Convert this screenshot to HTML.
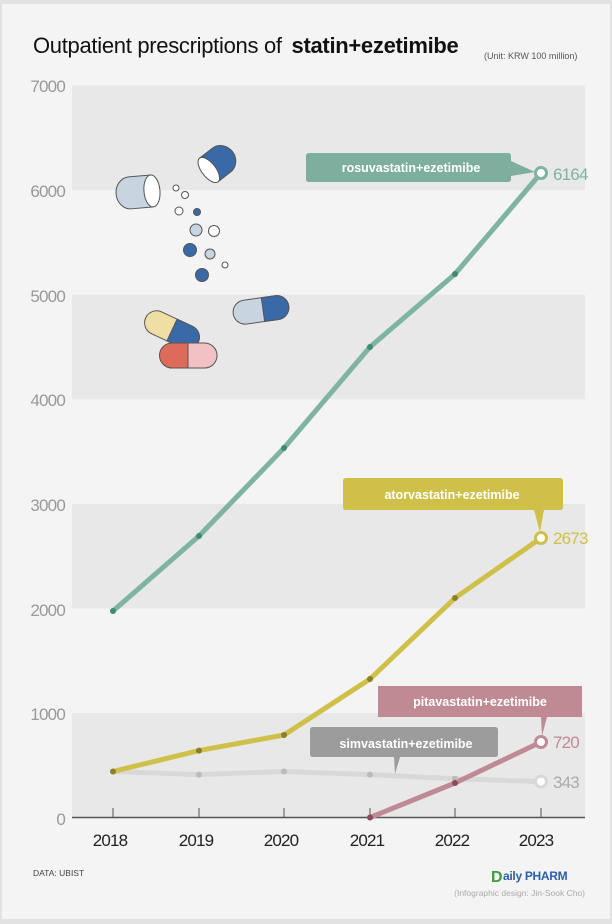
<!DOCTYPE html>
<html><head><meta charset="utf-8"><style>
html,body{margin:0;padding:0;background:#fff}
svg{display:block}
text{font-family:"Liberation Sans",sans-serif}
</style></head><body>
<svg width="612" height="924" viewBox="0 0 612 924" xmlns="http://www.w3.org/2000/svg">
<rect width="612" height="924" fill="#e2e2e2"/>
<rect x="2" y="4" width="608" height="915" fill="#f4f4f4"/>
<text x="33" y="53" font-size="22" fill="#111" letter-spacing="-0.3">Outpatient prescriptions of <tspan font-weight="bold" dx="4">statin+ezetimibe</tspan></text>
<text x="484" y="59" font-size="9" fill="#555">(Unit: KRW 100 million)</text>
<!-- bands -->
<g fill="#e8e8e8">
<rect x="72" y="85.5" width="513" height="104.6"/>
<rect x="72" y="294.7" width="513" height="104.6"/>
<rect x="72" y="503.8" width="513" height="104.6"/>
<rect x="72" y="713" width="513" height="104.6"/>
</g>
<g font-size="17" fill="#999" text-anchor="end" letter-spacing="-0.8">
<text x="65" y="92">7000</text><text x="65" y="197">6000</text><text x="65" y="302">5000</text>
<text x="65" y="406">4000</text><text x="65" y="511">3000</text><text x="65" y="616">2000</text>
<text x="65" y="720">1000</text><text x="65" y="825">0</text>
</g>
<line x1="72" y1="817.5" x2="585" y2="817.5" stroke="#555" stroke-width="1.5"/>
<g stroke="#555" stroke-width="1">
<line x1="113" y1="808" x2="113" y2="817"/><line x1="199" y1="808" x2="199" y2="817"/><line x1="284" y1="808" x2="284" y2="817"/>
<line x1="370" y1="808" x2="370" y2="817"/><line x1="455" y1="808" x2="455" y2="817"/><line x1="541" y1="808" x2="541" y2="817"/>
</g>
<g font-size="17" fill="#222" text-anchor="middle" letter-spacing="-0.8">
<text x="110" y="846">2018</text><text x="196" y="846">2019</text><text x="281" y="846">2020</text>
<text x="367" y="846">2021</text><text x="452" y="846">2022</text><text x="536" y="846">2023</text>
</g>
<!-- pills -->
<g stroke="#555" stroke-width="1">
<g transform="rotate(-5 140 192)"><path d="M130 176 h22 v32 h-22 a14 16 0 0 1 0 -32z" fill="#c8d5e0"/><ellipse cx="152" cy="192" rx="8" ry="16" fill="#fff"/></g>
<g transform="rotate(-38 220 160)"><path d="M205 146 h16 a14 15 0 0 1 0 30 h-16z" fill="#3a69a8"/><ellipse cx="205" cy="161" rx="7" ry="15" fill="#fff"/></g>
<g transform="rotate(-8 260 310)"><rect x="233" y="298" width="56" height="24" rx="12" fill="#c8d5e0"/><path d="M263 298 h14 a12 12 0 0 1 0 24 h-14z" fill="#3a69a8"/></g>
<g transform="rotate(25 172 330)"><rect x="143" y="318" width="58" height="24" rx="12" fill="#f0dfa5"/><path d="M172 318 h17 a12 12 0 0 1 0 24 h-17z" fill="#3a69a8"/></g>
<g><rect x="160" y="343" width="57" height="25" rx="12.5" fill="#f2c2c2"/><path d="M188 343 h-16 a12.5 12.5 0 0 0 0 25 h16z" fill="#de6a5a"/></g>
<circle cx="176" cy="188" r="3" fill="#fff"/><circle cx="185" cy="195" r="3.5" fill="#fff"/>
<circle cx="179" cy="211" r="4" fill="#fff"/><circle cx="197" cy="212" r="3.5" fill="#3a69a8"/>
<circle cx="196" cy="230" r="6" fill="#c8d5e0"/><circle cx="214" cy="231" r="5.5" fill="#fff"/>
<circle cx="190" cy="250" r="6.5" fill="#3a69a8"/><circle cx="210" cy="254" r="5" fill="#c8d5e0"/>
<circle cx="225" cy="265" r="3" fill="#fff"/><circle cx="202" cy="275" r="6.5" fill="#3a69a8"/>
</g>
<!-- lines -->
<polyline points="113,771.5 199,774.6 284,771.5 370,774.6 455,778.8 541,781.6" fill="none" stroke="#d8d8d8" stroke-width="5" stroke-linejoin="round"/>
<polyline points="113,771.5 199,750.6 284,735 370,679 455,598 541,538" fill="none" stroke="#cfc04a" stroke-width="5" stroke-linejoin="round"/>
<polyline points="113,611 199,536 284,448 370,347 455,274 541,173" fill="none" stroke="#7fb3a2" stroke-width="5" stroke-linejoin="round"/>
<polyline points="370,817.5 455,783 541,742" fill="none" stroke="#c08a95" stroke-width="5" stroke-linejoin="round"/>
<g>
<circle cx="199" cy="774.6" r="3" fill="#bbb"/><circle cx="284" cy="771.5" r="3" fill="#bbb"/><circle cx="370" cy="774.6" r="3" fill="#bbb"/><circle cx="455" cy="778.8" r="3" fill="#bbb"/>
<circle cx="113" cy="771.5" r="3" fill="#8a7f2a"/><circle cx="199" cy="750.6" r="3" fill="#8a7f2a"/><circle cx="284" cy="735" r="3" fill="#8a7f2a"/><circle cx="370" cy="679" r="3" fill="#8a7f2a"/><circle cx="455" cy="598" r="3" fill="#8a7f2a"/>
<circle cx="113" cy="611" r="3" fill="#3f8a72"/><circle cx="199" cy="536" r="3" fill="#3f8a72"/><circle cx="284" cy="448" r="3" fill="#3f8a72"/><circle cx="370" cy="347" r="3" fill="#3f8a72"/><circle cx="455" cy="274" r="3" fill="#3f8a72"/>
<circle cx="370" cy="817.5" r="3" fill="#8a4a5a"/><circle cx="455" cy="783" r="3" fill="#8a4a5a"/>
</g>
<g stroke-width="3" fill="#fff">
<circle cx="541" cy="173" r="5.5" stroke="#7fb3a2"/>
<circle cx="541" cy="538" r="5.5" stroke="#cfc04a"/>
<circle cx="541" cy="742" r="5.5" stroke="#c08a95"/>
<circle cx="541" cy="781.6" r="5.5" stroke="#d8d8d8"/>
</g>
<g font-size="17" letter-spacing="-0.8">
<text x="553" y="180" fill="#7fb3a2">6164</text>
<text x="553" y="544" fill="#cfc04a">2673</text>
<text x="553" y="748" fill="#c08a95">720</text>
<text x="553" y="788" fill="#aaa">343</text>
</g>
<!-- labels -->
<path d="M306 156 q0 -3 3 -3 h199 q3 0 3 3 v5 l24 11 l-24 4 v3 q0 3 -3 3 h-199 q-3 0 -3 -3z" fill="#7eae9e"/>
<text x="411" y="172" font-size="12.5" font-weight="bold" fill="#fff" text-anchor="middle">rosuvastatin+ezetimibe</text>
<path d="M346 478 h214 q3 0 3 3 v26 q0 3 -3 3 h-16 l-4 22 l-6 -22 h-188 q-3 0 -3 -3 v-26 q0 -3 3 -3z" fill="#cfc04a"/>
<text x="452" y="499" font-size="12.5" font-weight="bold" fill="#fff" text-anchor="middle">atorvastatin+ezetimibe</text>
<path d="M378 686 h204 v31 h-35 l-5 19 l-1 -19 h-163z" fill="#c08a95"/>
<text x="480" y="706" font-size="12.5" font-weight="bold" fill="#fff" text-anchor="middle">pitavastatin+ezetimibe</text>
<path d="M313 727 h182 q3 0 3 3 v24 q0 3 -3 3 h-95 l-5 17 l-1 -17 h-81 q-3 0 -3 -3 v-24 q0 -3 3 -3z" fill="#9c9c9c"/>
<text x="406" y="748" font-size="12.5" font-weight="bold" fill="#fff" text-anchor="middle">simvastatin+ezetimibe</text>
<!-- footer -->
<text x="33" y="876" font-size="8.5" fill="#444">DATA: UBIST</text>
<text x="491" y="882" font-size="16" font-weight="bold" fill="#3b9e3b">D</text>
<text x="503" y="880" font-size="12" font-weight="bold" fill="#2c5ea8" letter-spacing="-0.3">aily PHARM</text>
<text x="585" y="896" font-size="8.5" fill="#aaa" text-anchor="end">(Infographic design: Jin-Sook Cho)</text>
</svg>
</body></html>
